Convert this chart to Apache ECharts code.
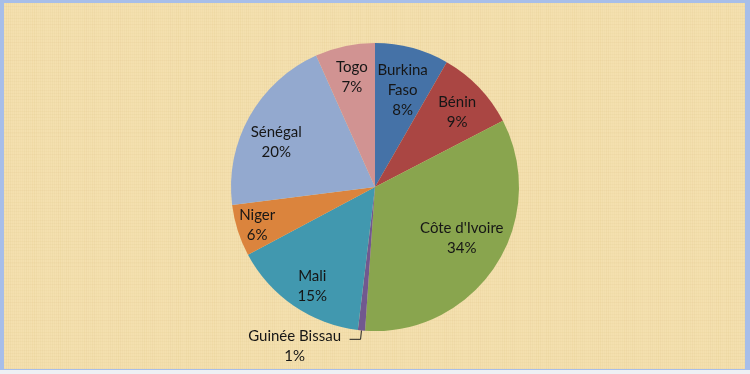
<!DOCTYPE html>
<html>
<head>
<meta charset="utf-8">
<script src="https://cdn.jsdelivr.net/npm/echarts@6/dist/echarts.min.js"></script>
<style>
  html, body { margin: 0; padding: 0; background: #F4F5F7; }
  #frame { position: absolute; left: 0; top: 0; width: 750px; height: 374px; background: #EEF0F4; }
  #blue { position: absolute; left: 0; top: 0; width: 750px; height: 370px; background: #A7BEE9; }
  #chart { position: absolute; left: 4px; top: 3px; width: 741px; height: 366px; }
</style>
</head>
<body>
<div id="frame"><div id="blue"></div><div id="chart"></div></div>
<script>
const categories = ['Burkina\nFaso', 'Bénin', "Côte d'Ivoire", 'Guinée Bissau', 'Mali', 'Niger', 'Sénégal', 'Togo'];
const values = [8.3, 9.1, 33.7, 0.8, 15.3, 5.8, 20.3, 6.7];
const colors = ['#4572A7', '#AA4643', '#89A54E', '#71588F', '#4198AF', '#DB843D', '#93A9CF', '#D19392'];
// small label nudges (Excel "best fit" placement)
const labelNudges = [[-1, 10], [2, 2], [-6, -10], [0, 0], [0, 8], [-12, 5], [-2, 10], [0, -1]];

// papyrus-like texture (decorative)
function makeTexture() {
  const c = document.createElement('canvas');
  c.width = 180; c.height = 130;
  const g = c.getContext('2d');
  g.fillStyle = '#F4E0AF';
  g.fillRect(0, 0, c.width, c.height);
  for (let x = 0; x < c.width; x += 2) {
    const a = 0.04 + 0.06 * Math.abs(Math.sin(x * 0.37) * Math.cos(x * 0.11));
    g.fillStyle = 'rgba(205,170,95,' + a.toFixed(3) + ')';
    g.fillRect(x, 0, 1, c.height);
  }
  for (let y = 0; y < c.height; y += 3) {
    const a = 0.03 + 0.05 * Math.abs(Math.sin(y * 0.53) * Math.cos(y * 0.17));
    g.fillStyle = 'rgba(200,165,90,' + a.toFixed(3) + ')';
    g.fillRect(0, y, c.width, 1);
  }
  return c;
}

const CX = 371, CY = 184, R = 144;
const fontFamily = 'Lato, "Open Sans", sans-serif';
const textColor = '#161616';

const pieData = categories.map((n, i) => ({ name: n, value: values[i], itemStyle: { color: colors[i] } }));
const labelData = categories.map((n, i) => {
  const d = { name: n, value: values[i], label: { offset: labelNudges[i] } };
  if (n === 'Guinée Bissau') {
    d.label = {
      position: 'outside',
      formatter: '{a|{b}}\n{a|{d}%}',
      padding: [13, 0, 0, 0],
      rich: { a: { width: 100, align: 'center', fontSize: 15, lineHeight: 20, color: textColor, fontFamily: fontFamily } }
    };
    d.labelLine = { show: true, length: 9, length2: 11, lineStyle: { color: '#222', width: 1 } };
  }
  return d;
});

const chart = echarts.init(document.getElementById('chart'), null, { renderer: 'canvas' });
chart.setOption({
  backgroundColor: { image: makeTexture(), repeat: 'repeat' },
  animation: false,
  series: [
    {
      type: 'pie',
      center: [CX, CY],
      radius: [0, R],
      startAngle: 90,
      clockwise: true,
      data: pieData,
      label: { show: false },
      labelLine: { show: false },
      itemStyle: { borderWidth: 0 },
      silent: true
    },
    {
      type: 'pie',
      center: [CX, CY],
      radius: [R * 0.5, R],
      startAngle: 90,
      clockwise: true,
      percentPrecision: 0,
      data: labelData,
      itemStyle: { color: 'rgba(0,0,0,0)', borderWidth: 0 },
      label: {
        show: true,
        position: 'inside',
        formatter: '{b}\n{d}%',
        fontSize: 15,
        lineHeight: 20,
        color: textColor,
        fontFamily: fontFamily,
        align: 'center'
      },
      labelLine: { show: false },
      emphasis: { disabled: true },
      silent: true
    }
  ]
});
</script>
</body>
</html>
